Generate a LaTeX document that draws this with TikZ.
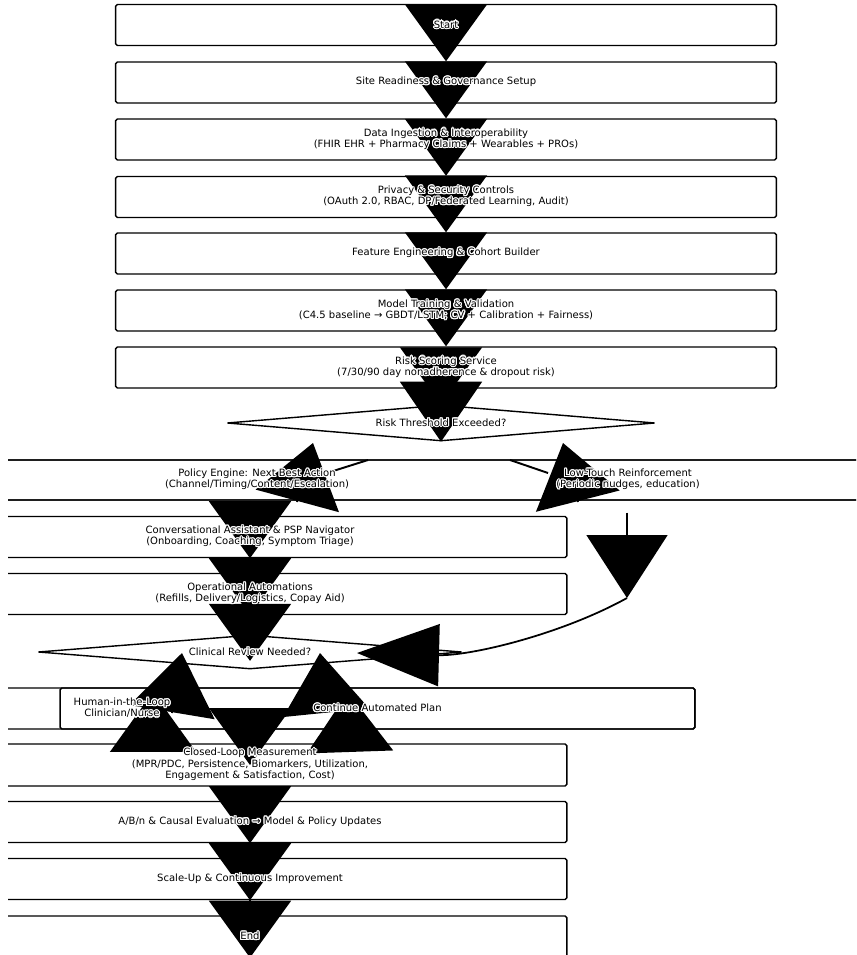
\documentclass[tikz,border=0pt]{standalone}
\usepackage{fontspec}
\setmainfont{DejaVu Sans}
\usepackage[copies]{contour}
\contourlength{0.65pt}
\usetikzlibrary{arrows.meta,shapes.geometric,calc}
\pgfdeclarelayer{bg}
\pgfsetlayers{bg,main}
\newcommand{\halo}[1]{\contour{white}{#1}}
\tikzset{
  stage/.style={draw, line width=0.8pt, rounded corners=1pt, minimum height=0.82cm, align=center, inner sep=0pt, font=\fontsize{5.7}{6.4}\selectfont},
  topbox/.style={stage, minimum width=13.22cm},
  lowbox/.style={stage, minimum width=12.68cm},
  rowbox/.style={stage, minimum width=28cm, minimum height=0.8cm},
  decision/.style={diamond, draw, line width=0.8pt, shape aspect=12, inner sep=0pt, font=\fontsize{5.7}{6.4}\selectfont},
  flow/.style={-{Triangle[length=1.14cm,width=1.64cm]}, line width=1pt},
  backflow/.style={{Triangle[length=1.2cm,width=1.72cm]}-, line width=1pt},
  branch/.style={line width=1.1pt}
}
\begin{document}
\begin{tikzpicture}[x=0.02cm, y=-0.02cm]
\useasboundingbox (0,0) rectangle (856,955);
\begin{scope}
\clip (8,0) rectangle (856,955);
\node[topbox] (start) at (446,25) {\halo{Start}};
\node[topbox] (site) at (446,82.5) {\halo{Site Readiness \& Governance Setup}};
\node[topbox] (data) at (446,139.5) {\halo{Data Ingestion \& Interoperability}\\\halo{(FHIR EHR + Pharmacy Claims + Wearables + PROs)}};
\node[topbox] (privacy) at (446,197) {\halo{Privacy \& Security Controls}\\\halo{(OAuth 2.0, RBAC, DP/Federated Learning, Audit)}};
\node[topbox] (feature) at (446,253.5) {\halo{Feature Engineering \& Cohort Builder}};
\node[topbox] (model) at (446,310.5) {\halo{Model Training \& Validation}\\\halo{(C4.5 baseline → GBDT/LSTM; CV + Calibration + Fairness)}};
\node[topbox] (risk) at (446,367.5) {\halo{Risk Scoring Service}\\\halo{(7/30/90 day nonadherence \& dropout risk)}};
\node[decision, minimum width=8.56cm, minimum height=0.72cm] (thresh) at (441,423) {\halo{Risk Threshold Exceeded?}};
\node[rowbox] (policy) at (257,480) {\halo{Policy Engine: Next Best Action}\\\halo{(Channel/Timing/Content/Escalation)}};
\node[rowbox] (lowtouch) at (628,480) {\halo{Low-Touch Reinforcement}\\\halo{(Periodic nudges, education)}};
\node[lowbox] (conv) at (250,537) {\halo{Conversational Assistant \& PSP Navigator}\\\halo{(Onboarding, Coaching, Symptom Triage)}};
\node[lowbox] (ops) at (250,594) {\halo{Operational Automations}\\\halo{(Refills, Delivery/Logistics, Copay Aid)}};
\node[decision, minimum width=8.48cm, minimum height=0.68cm] (clinical) at (250,652) {\halo{Clinical Review Needed?}};
\node[stage, minimum width=22.92cm] (hitl) at (122,708.5) {\halo{Human-in-the-Loop}\\\halo{Clinician/Nurse}};
\node[stage, minimum width=12.7cm] (cont) at (377.5,708.5) {\halo{Continue Automated Plan}};
\node[lowbox, minimum height=0.84cm] (closed) at (250,765) {\halo{Closed-Loop Measurement}\\\halo{(MPR/PDC, Persistence, Biomarkers, Utilization,}\\\halo{Engagement \& Satisfaction, Cost)}};
\node[lowbox] (ab) at (250,822) {\halo{A/B/n \& Causal Evaluation → Model \& Policy Updates}};
\node[lowbox] (scale) at (250,879) {\halo{Scale-Up \& Continuous Improvement}};
\node[lowbox] (finish) at (250,936.5) {\halo{End}};
\coordinate (pl1) at (368,460);
\coordinate (pl2) at (330,472);
\coordinate (pr1) at (510,460);
\coordinate (pr2) at (548,473);
\coordinate (ptipL) at (313,443);
\coordinate (pbaseL) at (297,502);
\coordinate (ptipR) at (563,443);
\coordinate (pbaseR) at (578,502);
\coordinate (ltturn) at (627,598);
\coordinate (clinin) at (357,653);
\coordinate (cA) at (182,653);
\coordinate (cAb) at (172,713);
\coordinate (cB) at (320,653);
\coordinate (cBb) at (326,712);
\coordinate (cD) at (153,692);
\coordinate (cDb) at (153,750);
\coordinate (cE) at (348,692);
\coordinate (cEb) at (350,750);
\end{scope}
\begin{pgfonlayer}{bg}
\draw[flow] (start) -- (site.north);
\draw[flow] (site) -- (data.north);
\draw[flow] (data) -- (privacy.north);
\draw[flow] (privacy) -- (feature.north);
\draw[flow] (feature) -- (model.north);
\draw[flow] (model) -- (risk.north);
\draw[flow] (thresh.north |- risk.south) -- (thresh.north);
\draw[flow, -{Triangle[length=1.2cm,width=1.64cm]}] (thresh.north |- risk.south) -- (thresh.south);
\draw[branch] (pl1) -- (pl2);
\draw[branch] (pr1) -- (pr2);
\draw[backflow] (ptipL) -- (pbaseL);
\draw[backflow] (ptipR) -- (pbaseR);
\draw[flow] (conv.north |- policy.south) -- (conv.south);
\draw[flow] (conv) -- (ops.south);
\draw[flow] (ops) -- ($(clinical.center)!0.5!(clinical.south)$);
\draw[flow, -{Triangle[length=1.26cm,width=1.62cm]}] ([yshift=-0.24cm]lowtouch.south -| ltturn) -- (ltturn);
\draw[flow, -{Triangle[length=1.64cm,width=1.24cm]}] (ltturn) .. controls (560,635) and (470,656) .. (clinin);
\draw[backflow] (cA) -- (cAb);
\draw[backflow] (cB) -- (cBb);
\draw[flow] ([yshift=1.1cm]closed.center) -- (closed.center);
\draw[backflow] (cD) -- (cDb);
\draw[backflow] (cE) -- (cEb);
\draw[flow] (closed) -- (ab.south);
\draw[flow] (ab) -- (scale.south);
\draw[flow] (scale) -- (finish.south);
\end{pgfonlayer}
\end{tikzpicture}
\end{document}
